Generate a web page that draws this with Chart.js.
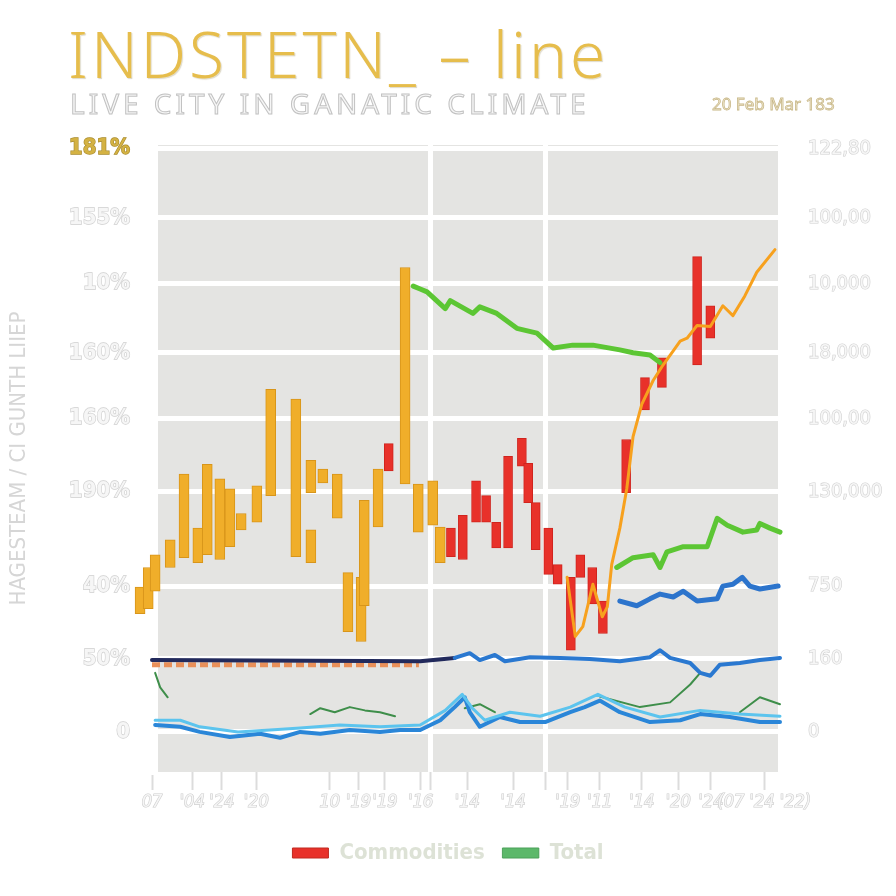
<!DOCTYPE html>
<html>
<head>
<meta charset="utf-8">
<script src="https://cdn.jsdelivr.net/npm/chart.js@4.4.1/dist/chart.umd.min.js"></script>
<style>
  body { margin: 0; background: #ffffff; }
  #wrap { position: relative; width: 896px; height: 896px; }
  .txt { position: absolute; white-space: nowrap; font-family: "Noto Sans", sans-serif; }
  #title { left: 68px; top: 10px; font-size: 64px; font-weight: 300; letter-spacing: 3px; color: #e6bd4c;
           text-shadow: 0 0 3px #ffffff, 1px 1px 1px #cfc8b0; }
  #subtitle { left: 70px; top: 84px; font-size: 28px; color: #f6f6f6; -webkit-text-stroke: 1px #c2c2c2; letter-spacing: 4px; }
  #stamp { left: 712px; top: 92px; font-size: 17px; color: #f4ecd6; -webkit-text-stroke: 0.8px #c9b98a; }
</style>
</head>
<body>
<div id="wrap">
  <canvas id="chart"></canvas>
  <div class="txt" id="title">INDSTETN_ – line</div>
  <div class="txt" id="subtitle">LIVE CITY IN GANATIC CLIMATE</div>
  <div class="txt" id="stamp">20 Feb Mar 183</div>
</div>
<script>
// escala / ticks
const yTickValues = [0, 20, 40, 66, 86, 104, 123, 141, 160];
const leftTickLabels = ["0", "50%", "40%", "190%", "160%", "160%", "10%", "155%", "181%"];
const rightTickLabels = ["0", "160", "750", "130,000", "100,00", "18,000", "10,000", "100,00", "122,80"];
const xTickValues = [0, 6.4, 11.1, 16.6, 28.3, 32.9, 37.1, 42.8, 50.2, 57.5, 66.2, 71.3, 78.0, 83.8, 89.0, 97.5];
const xTickLabels = ["07", "'04", "'24", "'20", "10", "'19", "'19", "'16", "'14", "'14", "'19", "'11", "'14", "'20", "'24", "(07 '24 '22)"];
const xDividers = [44.3, 62.6];

// barras doradas (flotantes)
const goldX = [-1.9, -0.6, 0.5, 2.9, 5.1, 7.3, 8.8, 10.8, 12.4, 14.2, 16.7, 18.9, 22.9, 25.3, 25.3, 27.2, 29.5, 31.2, 33.3, 33.8, 36.0, 40.3, 42.4, 44.7, 45.9];
const goldLow = [32.4, 33.8, 38.6, 45.1, 47.8, 46.4, 48.6, 47.3, 50.8, 55.4, 57.5, 64.8, 48.1, 46.4, 65.6, 68.3, 58.6, 27.5, 24.8, 34.6, 56.2, 68.0, 54.8, 56.7, 46.4];
const goldHigh = [39.7, 45.1, 48.6, 52.7, 70.7, 55.9, 73.4, 69.4, 66.7, 59.9, 67.5, 94.0, 91.3, 55.4, 74.5, 72.1, 70.7, 43.7, 42.4, 63.5, 72.1, 127.4, 68.0, 68.9, 56.2];

// barras rojas
const redX = [37.7, 47.6, 49.5, 51.6, 53.2, 54.8, 56.7, 58.9, 59.9, 61.1, 63.1, 64.6, 66.7, 68.2, 70.1, 71.8, 75.5, 78.5, 81.2, 86.8, 88.9];
const redLow = [71.6, 48.1, 47.3, 57.5, 57.5, 50.5, 50.5, 72.9, 62.9, 50.0, 43.2, 40.5, 22.4, 42.4, 35.1, 27.0, 65.6, 88.3, 94.5, 100.7, 108.0];
const redHigh = [79.1, 55.9, 59.4, 68.9, 64.8, 57.5, 75.6, 80.5, 73.7, 62.9, 55.9, 45.9, 42.4, 48.6, 45.1, 35.9, 80.2, 97.2, 102.6, 130.4, 116.9];

// línea naranja
const orangeX = [66.1, 67.4, 68.6, 70.2, 71.7, 72.5, 73.2, 74.5, 75.6, 76.6, 78.0, 79.8, 81.4, 83.0, 84.1, 85.2, 86.8, 88.9, 90.9, 92.5, 94.4, 96.3, 99.2];
const orangeY = [42.4, 26.2, 28.9, 40.5, 31.6, 34.3, 45.9, 55.9, 66.7, 81.0, 89.9, 96.4, 100.7, 104.5, 107.2, 108.0, 111.5, 111.2, 116.9, 114.2, 119.6, 126.1, 132.3];

// verde superior
const greenTopX = [41.6, 42.7, 43.8, 46.7, 47.5, 51.1, 52.2, 54.9, 58.1, 61.3, 63.9, 67.0, 70.2, 74.5, 76.6, 79.3, 80.9];
const greenTopY = [122.3, 121.5, 120.7, 116.1, 118.3, 114.8, 116.6, 114.8, 110.7, 109.4, 105.3, 106.1, 106.1, 104.8, 104.0, 103.4, 101.3];

// verde inferior
const greenLowX = [74.0, 76.6, 79.8, 80.9, 82.0, 84.6, 88.4, 90.0, 91.6, 94.1, 96.3, 96.8, 98.4, 100];
const greenLowY = [45.1, 47.8, 48.6, 45.1, 49.4, 50.8, 50.8, 58.6, 56.7, 54.8, 55.4, 57.2, 55.9, 54.8];

// azul superior
const blueTopX = [74.5, 77.2, 79.3, 80.9, 83.0, 84.6, 86.8, 90.0, 90.9, 92.5, 94.0, 95.2, 96.8, 99.7];
const blueTopY = [35.9, 34.6, 36.5, 37.8, 37.0, 38.6, 35.9, 36.5, 40.0, 40.5, 42.4, 40.0, 39.2, 40.0];

// base (azul oscuro / azul)
const baseX = [0, 42.7, 48.2, 50.6, 52.2, 54.6, 56.2, 60.2, 65.0, 69.7, 74.5, 79.3, 80.9, 82.5, 85.7, 87.3, 88.9, 90.4, 93.6, 96.8, 100];
const baseY = [19.7, 19.4, 20.3, 21.6, 19.7, 21.1, 19.4, 20.5, 20.3, 20.0, 19.4, 20.5, 22.4, 20.3, 18.9, 16.2, 15.4, 18.4, 18.9, 19.7, 20.3];
const dashX = [0, 42.5];
const dashY = [18.4, 18.4];

// azul inferior y cian
const blueLowX = [0.5, 4.5, 7.6, 12.4, 17.2, 20.4, 23.6, 26.8, 31.5, 36.3, 39.5, 42.7, 45.9, 48.2, 49.8, 50.6, 52.2, 55.4, 58.6, 62.6, 66.6, 68.9, 71.3, 74.5, 79.3, 84.1, 87.3, 92.0, 96.8, 100];
const blueLowY = [1.9, 1.4, 0, -1.4, -0.5, -1.6, 0, -0.5, 0.5, 0, 0.5, 0.5, 3.2, 6.8, 9.5, 5.4, 1.4, 4.1, 2.7, 2.7, 5.4, 6.8, 8.6, 5.4, 2.7, 3.2, 4.9, 4.1, 2.7, 2.7];
const cyanX = [0.5, 4.5, 7.6, 13.7, 18.8, 23.6, 29.9, 36.3, 42.7, 46.7, 49.4, 51.0, 53.0, 57.0, 61.8, 66.6, 71.0, 75.3, 80.9, 87.3, 93.6, 100];
const cyanY = [3.2, 3.2, 1.4, 0, 0.5, 1.1, 1.9, 1.4, 1.9, 5.9, 10.3, 6.5, 3.2, 5.4, 4.3, 6.8, 10.3, 6.8, 4.1, 5.9, 4.9, 4.3];

// verde fino (con cortes)
const greenThinX = [0.5, 1.3, 2.5, 10, 25.2, 26.8, 29.1, 31.5, 33.9, 36.3, 38.7, 45, 49.8, 52.2, 54.6, 60, 71.3, 77.7, 82.5, 85.7, 87.3, 90, 93.6, 96.8, 100];
const greenThinY = [16.2, 12.2, 9.5, null, 4.9, 6.5, 5.4, 6.8, 5.9, 5.4, 4.3, null, 6.5, 7.6, 5.4, null, 9.7, 6.8, 8.1, 13.0, 16.2, null, 5.4, 9.5, 7.6];

const legendLabels = ["Commodities", "Total"];

const pts = (xs, ys) => xs.map((x, i) => ({ x, y: ys[i] }));
const bars = (xs, lo, hi) => xs.map((x, i) => ({ x, y: [lo[i], hi[i]] }));

const tickFont = { family: "'DejaVu Sans Condensed', 'DejaVu Sans', sans-serif", size: 22, weight: "bold" };

const plotBg = {
  id: "plotBg",
  beforeDraw(chart) {
    const { ctx, chartArea: a } = chart;
    ctx.save();
    ctx.fillStyle = "#e4e4e2";
    ctx.fillRect(a.left + 6, a.top, a.right - a.left - 6, a.bottom - a.top);
    ctx.restore();
  },
};

const lineDs = (label, data, color, width, order, extra = {}) => ({
  type: "line",
  label,
  data,
  borderColor: color,
  backgroundColor: color,
  borderWidth: width,
  pointRadius: 0,
  tension: 0,
  borderJoinStyle: "round",
  borderCapStyle: "round",
  spanGaps: false,
  clip: false,
  order,
  ...extra,
});

new Chart(document.getElementById("chart"), {
  type: "line",
  data: {
    datasets: [
      {
        type: "bar",
        label: "Gold",
        data: bars(goldX, goldLow, goldHigh),
        backgroundColor: "#f0ae2a",
        borderColor: "#d8951a",
        borderWidth: 1,
        borderSkipped: false,
        barThickness: 10,
        grouped: false,
        clip: false,
        order: 5,
      },
      {
        type: "bar",
        label: legendLabels[0],
        data: bars(redX, redLow, redHigh),
        backgroundColor: "#e8312a",
        borderColor: "#d0241e",
        borderWidth: 1,
        borderSkipped: false,
        barThickness: 9,
        grouped: false,
        clip: false,
        order: 4,
      },
      lineDs("Orange", pts(orangeX, orangeY), "#f7a11e", 3, 1),
      lineDs(legendLabels[1], pts(greenTopX, greenTopY), "#5cc634", 5, 2),
      lineDs("Green 2", pts(greenLowX, greenLowY), "#5cc634", 5, 2),
      lineDs("Blue top", pts(blueTopX, blueTopY), "#2c74cc", 5, 2),
      lineDs("Base", pts(baseX, baseY), "#2a78d0", 4, 3, {
        segment: { borderColor: (c) => (c.p0.parsed.x < 44 ? "#222a5c" : "#2a78d0") },
      }),
      lineDs("Dash", pts(dashX, dashY), "#e9905a", 5, 3, { borderDash: [8, 4], borderCapStyle: "butt" }),
      lineDs("Cyan", pts(cyanX, cyanY), "#5cc4ee", 3, 3),
      lineDs("Blue low", pts(blueLowX, blueLowY), "#2a86d8", 4, 3),
      lineDs("Green thin", pts(greenThinX, greenThinY), "#3e8e4a", 2, 3),
    ],
  },
  plugins: [plotBg],
  options: {
    responsive: true,
    maintainAspectRatio: false,
    animation: false,
    layout: { padding: { top: 145, left: 0, right: 0, bottom: 22 } },
    plugins: {
      tooltip: { enabled: false },
      title: { display: false },
      legend: {
        position: "bottom",
        labels: {
          filter: (item) => legendLabels.includes(item.text),
          sort: (a, b) => legendLabels.indexOf(a.text) - legendLabels.indexOf(b.text),
          boxWidth: 36,
          boxHeight: 10,
          padding: 18,
          color: "#dde2d6",
          font: { family: "'DejaVu Sans Condensed', sans-serif", size: 22, weight: "bold" },
          generateLabels: (chart) =>
            Chart.defaults.plugins.legend.labels.generateLabels(chart).map((l) => ({
              ...l,
              fillStyle: l.text === legendLabels[0] ? "#e8312a" : "#5cb86a",
              strokeStyle: l.text === legendLabels[0] ? "#c02a20" : "#4aa058",
              lineWidth: 1,
            })),
        },
      },
    },
    scales: {
      x: {
        type: "linear",
        min: 0,
        max: 100,
        offset: false,
        afterBuildTicks: (s) => {
          s.ticks = [...xTickValues, ...xDividers].map((v) => ({ value: v }));
        },
        afterFit: (s) => { s.height = 52; },
        grid: {
          offset: false,
          color: (c) => (c.tick && xDividers.includes(c.tick.value) ? "#ffffff" : "rgba(0,0,0,0)"),
          lineWidth: 5,
          drawTicks: true,
          tickLength: 18,
          tickColor: "#dcdcdc",
          tickWidth: 2,
        },
        border: { display: false },
        ticks: {
          autoSkip: false,
          maxRotation: 0,
          padding: 2,
          color: "#f6f6f6",
          textStrokeColor: "#cdcdcd",
          textStrokeWidth: 1.2,
          font: { family: "'DejaVu Sans Condensed', sans-serif", size: 18, style: "italic" },
          callback: (v) => {
            const i = xTickValues.indexOf(v);
            return i >= 0 ? xTickLabels[i] : "";
          },
        },
      },
      y: {
        type: "linear",
        position: "left",
        min: -11,
        max: 161,
        afterBuildTicks: (s) => { s.ticks = yTickValues.map((v) => ({ value: v })); },
        afterFit: (s) => { s.width = 152; },
        grid: { color: "#ffffff", lineWidth: 5, drawTicks: false },
        border: { display: true, color: "#ffffff", width: 4 },
        title: {
          display: true,
          text: "HAGESTEAM / CI GUNTH LIIEP",
          color: "#d6d6d6",
          font: { family: "'DejaVu Sans Condensed', sans-serif", size: 22 },
          padding: { top: 6, bottom: 2 },
        },
        ticks: {
          padding: 22,
          color: (c) => (c.index === yTickValues.length - 1 ? "#d4b243" : "#f6f6f6"),
          textStrokeColor: (c) => (c.index === yTickValues.length - 1 ? "#a88a2a" : "#cfcfcf"),
          textStrokeWidth: 1.3,
          font: tickFont,
          callback: (v, i) => leftTickLabels[i],
        },
      },
      y2: {
        type: "linear",
        position: "right",
        min: -11,
        max: 161,
        afterBuildTicks: (s) => { s.ticks = yTickValues.map((v) => ({ value: v })); },
        afterFit: (s) => { s.width = 116; },
        grid: { display: false },
        border: { display: true, color: "#ffffff", width: 4 },
        ticks: {
          padding: 20,
          color: "#f6f6f6",
          textStrokeColor: "#d0d0d0",
          textStrokeWidth: 1.2,
          font: { family: "'DejaVu Sans Condensed', sans-serif", size: 20 },
          callback: (v, i) => rightTickLabels[i],
        },
      },
    },
  },
});
</script>
</body>
</html>
